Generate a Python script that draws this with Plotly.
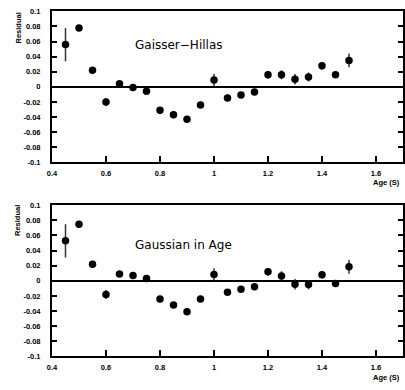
import plotly.graph_objects as go

age = [0.45, 0.5, 0.55, 0.6, 0.65, 0.7, 0.75, 0.8, 0.85, 0.9, 0.95,
       1.0, 1.05, 1.1, 1.15, 1.2, 1.25, 1.3, 1.35, 1.4, 1.45, 1.5]

gh_resid = [0.056, 0.078, 0.022, -0.020, 0.004, -0.001, -0.006, -0.031, -0.037, -0.043, -0.024,
            0.009, -0.015, -0.011, -0.007, 0.016, 0.016, 0.010, 0.013, 0.028, 0.016, 0.035]
gh_err = [0.022, 0.003, 0.004, 0.005, 0.003, 0.002, 0.002, 0.002, 0.002, 0.002, 0.003,
          0.008, 0.002, 0.002, 0.002, 0.005, 0.006, 0.007, 0.006, 0.005, 0.003, 0.009]

ga_resid = [0.053, 0.075, 0.022, -0.018, 0.009, 0.007, 0.003, -0.024, -0.032, -0.041, -0.024,
            0.0085, -0.015, -0.011, -0.008, 0.012, 0.0065, -0.0045, -0.005, 0.008, -0.0035, 0.0185]
ga_err = [0.022, 0.003, 0.004, 0.006, 0.003, 0.002, 0.002, 0.002, 0.002, 0.002, 0.003,
          0.008, 0.002, 0.002, 0.002, 0.005, 0.006, 0.007, 0.006, 0.005, 0.003, 0.009]

labels = ["Gaisser\u2212Hillas", "Gaussian in Age"]
x_ticks = [0.4, 0.6, 0.8, 1.0, 1.2, 1.4, 1.6]
x_tick_text = ["0.4", "0.6", "0.8", "1", "1.2", "1.4", "1.6"]
y_ticks = [-0.1, -0.08, -0.06, -0.04, -0.02, 0, 0.02, 0.04, 0.06, 0.08, 0.1]
y_tick_text = ["-0.1", "-0.08", "-0.06", "-0.04", "-0.02", "0", "0.02", "0.04", "0.06", "0.08", "0.1"]

W, H = 405, 390
ML = 52
PW = W - ML
domains = [[1 - 162 / H, 1 - 7.5 / H], [1 - 360.7 / H, 1 - 206 / H]]

fig = go.Figure()
tickfont = dict(family="Liberation Sans", size=7.5, color="black")

for i, (res, err) in enumerate([(gh_resid, gh_err), (ga_resid, ga_err)]):
    xa = "x" if i == 0 else "x2"
    ya = "y" if i == 0 else "y2"
    fig.add_trace(go.Scatter(
        x=age, y=res, mode="markers", xaxis=xa, yaxis=ya,
        marker=dict(color="black", size=7.5),
        error_y=dict(type="data", array=err, visible=True, color="#333333",
                     thickness=1.5, width=0),
        showlegend=False))
    axx = dict(range=[0.4, 1.7], tickvals=x_ticks,
               ticktext=["<b>%s</b>" % t for t in x_tick_text],
               ticks="inside", ticklen=6, tickwidth=1.5, tickcolor="black",
               showline=True, linecolor="black", linewidth=2, mirror=True,
               showgrid=False, zeroline=False, tickfont=tickfont,
               ticklabelstandoff=3,
               anchor=ya)
    axy = dict(range=[-0.1, 0.1], tickvals=y_ticks,
               ticktext=["<b>%s</b>" % t for t in y_tick_text],
               ticks="inside", ticklen=5, tickwidth=1.5, tickcolor="black",
               showline=True, linecolor="black", linewidth=2, mirror="ticks",
               showgrid=False, zeroline=True, zerolinecolor="black", zerolinewidth=1.5,
               tickfont=tickfont, ticklabelstandoff=8,
               domain=domains[i], anchor=xa)
    if i == 0:
        fig.update_layout(xaxis=axx, yaxis=axy)
    else:
        fig.update_layout(xaxis2=axx, yaxis2=axy)
    fig.add_annotation(x=0.7, y=(0.056 if i == 0 else 0.047), xref=xa, yref=ya,
                       text=labels[i], showarrow=False, xanchor="left", yanchor="middle",
                       font=dict(family="DejaVu Sans", size=12, color="black"))
    ytop = [7, 204][i]
    fig.add_annotation(x=-(ML - 18) / PW, y=1 - ytop / H, xref="paper", yref="paper",
                       text="<b>Residual</b>", textangle=-90, showarrow=False,
                       xanchor="center", yanchor="top",
                       font=dict(family="Liberation Sans", size=7.5, color="black"))
    ylab = [183, 382][i]
    fig.add_annotation(x=1, y=1 - ylab / H, xref="paper", yref="paper",
                       text="<b>Age (S)</b>", showarrow=False, xanchor="right", yanchor="middle",
                       xshift=-1,
                       font=dict(family="Liberation Sans", size=7.5, color="black"))

fig.update_layout(width=W, height=H, margin=dict(l=ML, r=0, t=0, b=0),
                  plot_bgcolor="white", paper_bgcolor="white")
fig.write_html("out.html")
